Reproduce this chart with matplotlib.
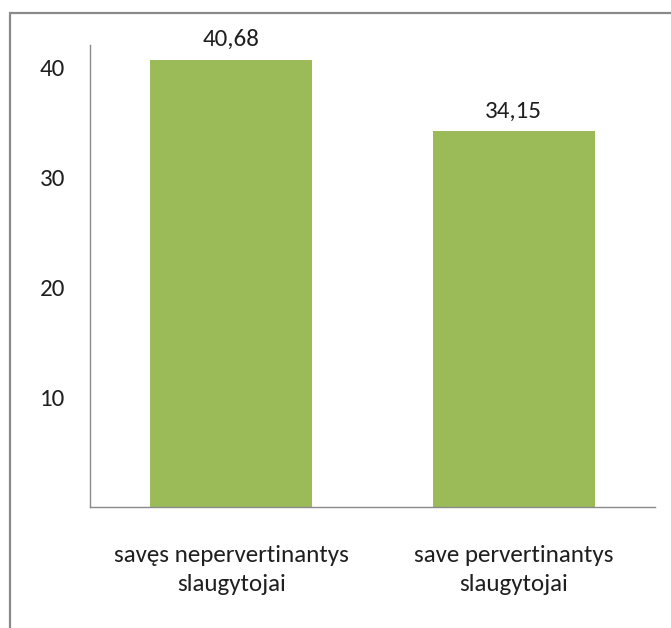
import matplotlib
matplotlib.use("Agg")
import matplotlib.pyplot as plt
from matplotlib.patches import Rectangle

categories = ["savęs nepervertinantys\nslaugytojai", "save pervertinantys\nslaugytojai"]
values = [40.68, 34.15]
value_labels = ["40,68", "34,15"]
yticks = [10, 20, 30, 40]

plt.rcParams['font.family'] = ['Carlito', 'DejaVu Sans']
TEXT = "#1f1f1f"
FS = 18

W, H = 671, 628
fig = plt.figure(figsize=(W / 100, H / 100), dpi=100)

# outer chart frame
fig.patches.append(Rectangle((9.5 / W, -0.1), 1.2, 1 - 13.5 / H + 0.1,
                             transform=fig.transFigure, fill=False,
                             edgecolor="#8a8a8a", linewidth=1.6))

ax = fig.add_axes([90 / W, 1 - 507 / H, (655 - 90) / W, (507 - 45) / H])
x = range(len(categories))
ax.bar(x, values, width=0.575, color="#9BBB59")
ax.set_xlim(-0.5, 1.5)
ax.set_ylim(0, 42)
ax.set_yticks(yticks)
ax.set_yticklabels([str(t) for t in yticks], fontsize=FS, color=TEXT)
ax.set_xticks(list(x))
ax.set_xticklabels(categories, fontsize=FS, color=TEXT, linespacing=1.5)
ax.tick_params(axis="y", length=0, pad=18)
ax.tick_params(axis="x", length=0, pad=27)
for s in ["top", "right"]:
    ax.spines[s].set_visible(False)
for s in ["left", "bottom"]:
    ax.spines[s].set_color("#8a8a8a")
    ax.spines[s].set_linewidth(1.0)

for xi, v, lab in zip(x, values, value_labels):
    ax.annotate(lab, (xi, v), xytext=(0, 10), textcoords="offset points",
                ha="center", va="baseline", fontsize=FS, color=TEXT)

fig.savefig("out.png", dpi=100)
